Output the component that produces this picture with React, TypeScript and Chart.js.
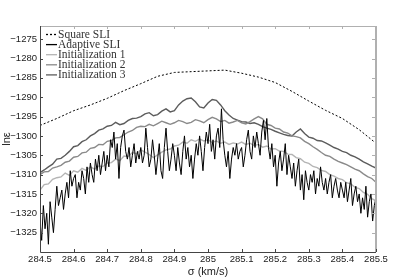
import React, { useEffect, useRef } from "react";
import { Chart, registerables } from "chart.js";
Chart.register(...registerables);

// ---- axes ----
const X_MIN = 284.5;
const X_MAX = 285.5;
const Y_MIN = -1330;
const Y_MAX = -1271.6;
const xTickValues = [284.5, 284.6, 284.7, 284.8, 284.9, 285.0, 285.1, 285.2, 285.3, 285.4, 285.5];
const yTickValues = [-1325, -1320, -1315, -1310, -1305, -1300, -1295, -1290, -1285, -1280, -1275];
const xTitle = "σ (km/s)";
const yTitle = "lnε";

// ---- series names ----
const seriesNames = ["Square SLI", "Adaptive SLI", "Initialization 1", "Initialization 2", "Initialization 3"];

// ---- Square SLI (sampled every 0.05) ----
const squareStart = 284.5;
const squareStep = 0.05;
const squareY = [
  -1297.3, -1295.5, -1293.5, -1292.0, -1290.3, -1288.3, -1286.5, -1284.6, -1283.6, -1283.4,
  -1283.2, -1283.0, -1283.8, -1284.8, -1286.2, -1288.5, -1291.0, -1293.4, -1295.5, -1298.4, -1301.9,
];

// ---- Adaptive SLI (sampled every 0.005) ----
const adaptiveStart = 284.5;
const adaptiveStep = 0.005;
const adaptiveY = [
  -1322, -1327, -1318, -1324, -1320, -1328, -1317, -1321, -1325, -1319,
  -1313, -1318, -1316, -1314, -1319, -1315, -1312, -1316, -1309, -1313,
  -1311, -1310, -1316, -1312, -1314, -1309, -1311, -1315, -1308, -1312,
  -1307, -1310, -1312, -1306, -1309, -1305, -1310, -1307, -1304, -1309,
  -1305, -1308, -1301, -1303, -1299, -1306, -1302, -1311, -1303, -1300,
  -1298.5, -1304, -1306, -1303, -1308, -1305, -1302, -1307, -1304, -1306,
  -1303, -1307, -1305, -1298, -1303, -1308, -1306, -1301, -1305, -1310,
  -1306, -1302, -1309, -1311, -1303, -1298, -1304, -1309, -1306, -1302,
  -1305, -1309, -1303, -1307, -1310, -1304, -1300, -1306, -1303, -1308,
  -1305, -1311, -1306, -1302, -1305, -1300, -1304, -1309, -1303, -1299,
  -1302, -1297, -1304, -1301, -1306, -1300, -1298, -1303, -1293, -1301,
  -1305, -1308, -1304, -1311, -1306, -1303, -1305, -1302, -1306, -1304,
  -1303, -1308, -1305, -1301, -1298.5, -1304, -1306, -1300, -1303, -1299,
  -1302, -1305, -1299, -1296, -1301, -1295.5, -1303, -1306, -1302, -1308,
  -1305, -1313, -1307, -1304, -1309, -1306, -1302, -1310, -1305, -1308,
  -1311, -1307, -1313, -1309, -1306, -1314, -1310, -1316.5, -1309, -1312,
  -1314, -1310, -1312, -1309, -1315, -1311, -1313, -1308, -1312, -1314,
  -1311, -1315, -1312, -1310, -1316, -1313, -1311, -1314, -1316, -1312,
  -1314, -1316, -1312, -1317, -1314, -1311, -1318, -1315, -1313, -1317,
  -1315, -1320, -1316, -1319, -1313, -1321, -1317, -1315, -1322, -1318,
  -1316,
];

// ---- Initializations (sampled every 0.0125) ----
const initStart = 284.5;
const initStep = 0.0125;
const init1Y = [
  -1314.0, -1312.6, -1312.4, -1311.2, -1310.8, -1310.6, -1309.6, -1310.2, -1309.0, -1309.4,
  -1308.4, -1308.9, -1308.0, -1308.6, -1307.8, -1307.9, -1307.0, -1306.9, -1306.0, -1306.4,
  -1305.2, -1305.3, -1304.3, -1304.6, -1303.6, -1304.2, -1304.8, -1305.6, -1304.9, -1304.2,
  -1303.6, -1303.4, -1302.6, -1302.4, -1301.6, -1301.9, -1301.0, -1301.4, -1300.8, -1301.3,
  -1301.0, -1301.7, -1301.3, -1301.9, -1301.6, -1302.2, -1301.8, -1302.1, -1301.6, -1302.2,
  -1301.9, -1302.5, -1302.2, -1302.9, -1302.6, -1303.4, -1303.3, -1303.9, -1304.0, -1304.7,
  -1304.8, -1305.6, -1305.9, -1306.8, -1307.1, -1307.9, -1308.2, -1308.9, -1309.2, -1310.0,
  -1310.4, -1311.0, -1311.3, -1312.1, -1312.4, -1313.3, -1313.6, -1314.6, -1315.1, -1316.2,
  -1316.8,
];
const init2Y = [
  -1310.0, -1309.3, -1309.2, -1308.3, -1308.0, -1307.6, -1306.8, -1306.5, -1305.5, -1305.3,
  -1304.4, -1304.2, -1303.2, -1303.0, -1302.2, -1302.3, -1301.4, -1301.2, -1300.5, -1300.4,
  -1299.7, -1299.0, -1298.6, -1297.8, -1297.5, -1297.6, -1297.0, -1297.4, -1296.8, -1296.2,
  -1296.6, -1297.0, -1296.6, -1296.0, -1296.3, -1296.8, -1296.5, -1295.8, -1296.1, -1296.6,
  -1295.8, -1295.2, -1295.6, -1296.3, -1296.0, -1296.7, -1296.4, -1296.0, -1296.6, -1296.9,
  -1296.3, -1295.6, -1295.0, -1295.6, -1297.0, -1297.3, -1298.0, -1298.2, -1299.0, -1299.3,
  -1300.0, -1300.2, -1300.5, -1301.4, -1302.0, -1302.8, -1303.5, -1304.3, -1305.0, -1305.3,
  -1306.0, -1306.6, -1307.0, -1307.4, -1308.0, -1308.6, -1309.0, -1309.8, -1310.5, -1311.0,
  -1312.0,
];
const init3Y = [
  -1309.5, -1308.8, -1308.0, -1307.3, -1306.0, -1305.8, -1305.0, -1304.0, -1302.8, -1302.5,
  -1301.5, -1301.0, -1300.0, -1299.4, -1298.5, -1298.2, -1297.5, -1297.3, -1296.5, -1297.1,
  -1296.8, -1296.0, -1295.5, -1295.4, -1295.0, -1294.3, -1294.0, -1294.8, -1294.5, -1293.6,
  -1293.0, -1293.8, -1293.5, -1292.0, -1291.0, -1290.4, -1290.2, -1291.2, -1292.5, -1292.8,
  -1291.5, -1290.6, -1290.8, -1292.0, -1293.5, -1294.6, -1295.5, -1295.9, -1296.3, -1296.4,
  -1296.8, -1296.6, -1297.0, -1297.6, -1298.0, -1298.3, -1298.8, -1299.2, -1299.6, -1299.9,
  -1300.0, -1299.0, -1298.2, -1299.4, -1300.3, -1300.6, -1301.2, -1301.3, -1301.8, -1302.4,
  -1303.0, -1303.4, -1304.0, -1304.3, -1305.0, -1305.4, -1306.0, -1306.7, -1307.2, -1307.8,
  -1308.3,
];

const toPoints = (start: number, step: number, ys: number[]) =>
  ys.map((y, i) => ({ x: start + i * step, y }));

const seriesColors = ["#000000", "#000000", "#b4b4b4", "#8a8a8a", "#5c5c5c"];
const seriesDash: number[][] = [[2, 2], [], [], [], []];

const tickFont = { family: "'Liberation Sans', Arial, sans-serif", size: 9.5 };

const framePlugin = {
  id: "matlabFrame",
  afterDraw(chart: any) {
    const { ctx, chartArea } = chart;
    const { left, right, top, bottom } = chartArea;
    const xs = chart.scales.x;
    const ys = chart.scales.y;
    ctx.save();
    ctx.strokeStyle = "#b0b0b0";
    ctx.lineWidth = 1;
    ctx.beginPath();
    ctx.moveTo(left, top + 0.5);
    ctx.lineTo(right, top + 0.5);
    ctx.stroke();
    ctx.lineWidth = 2;
    ctx.beginPath();
    ctx.moveTo(right, top);
    ctx.lineTo(right, bottom);
    ctx.stroke();
    ctx.lineWidth = 1;
    for (const v of xTickValues) {
      const px = Math.round(xs.getPixelForValue(v)) + 0.5;
      ctx.beginPath();
      ctx.moveTo(px, top);
      ctx.lineTo(px, top + 3);
      ctx.stroke();
    }
    for (const v of yTickValues) {
      const py = Math.round(ys.getPixelForValue(v)) + 0.5;
      ctx.beginPath();
      ctx.moveTo(right - 1, py);
      ctx.lineTo(right - 4, py);
      ctx.stroke();
    }
    ctx.strokeStyle = "#444";
    ctx.lineWidth = 1;
    ctx.beginPath();
    ctx.moveTo(left + 0.5, top);
    ctx.lineTo(left + 0.5, bottom + 0.5);
    ctx.lineTo(right, bottom + 0.5);
    ctx.stroke();
    for (const v of xTickValues) {
      const px = Math.round(xs.getPixelForValue(v)) + 0.5;
      ctx.beginPath();
      ctx.moveTo(px, bottom);
      ctx.lineTo(px, bottom - 3);
      ctx.stroke();
    }
    for (const v of yTickValues) {
      const py = Math.round(ys.getPixelForValue(v)) + 0.5;
      ctx.beginPath();
      ctx.moveTo(left, py);
      ctx.lineTo(left + 3, py);
      ctx.stroke();
    }
    // legend
    const lx0 = left + 6;
    const lx1 = left + 17;
    const tx = left + 18;
    const y0 = top + 8.5;
    const dy = 10.1;
    ctx.font = "11.5px 'Liberation Serif', 'Times New Roman', serif";
    ctx.textBaseline = "middle";
    ctx.textAlign = "left";
    seriesNames.forEach((name, i) => {
      const y = y0 + i * dy;
      ctx.strokeStyle = seriesColors[i];
      ctx.lineWidth = 1.3;
      ctx.setLineDash(seriesDash[i]);
      ctx.beginPath();
      ctx.moveTo(lx0, y);
      ctx.lineTo(lx1, y);
      ctx.stroke();
      ctx.setLineDash([]);
      ctx.fillStyle = "#333";
      ctx.fillText(name, tx, y + 0.5);
    });
    ctx.restore();
  },
};

export default function App() {
  const canvasRef = useRef<HTMLCanvasElement | null>(null);

  useEffect(() => {
    document.body.style.margin = "0";
    const canvas = canvasRef.current;
    if (!canvas) return;
    const datasets = [
      { label: seriesNames[0], data: toPoints(squareStart, squareStep, squareY), borderColor: seriesColors[0], borderWidth: 1, borderDash: seriesDash[0], order: 0 },
      { label: seriesNames[1], data: toPoints(adaptiveStart, adaptiveStep, adaptiveY), borderColor: seriesColors[1], borderWidth: 1, order: 1 },
      { label: seriesNames[2], data: toPoints(initStart, initStep, init1Y), borderColor: seriesColors[2], borderWidth: 1.4, order: 2 },
      { label: seriesNames[3], data: toPoints(initStart, initStep, init2Y), borderColor: seriesColors[3], borderWidth: 1.4, order: 3 },
      { label: seriesNames[4], data: toPoints(initStart, initStep, init3Y), borderColor: seriesColors[4], borderWidth: 1.4, order: 4 },
    ].map((d) => ({ ...d, pointRadius: 0, fill: false, tension: 0 }));

    const chart = new Chart(canvas, {
      type: "line",
      data: { datasets },
      options: {
        responsive: false,
        animation: false,
        devicePixelRatio: 1,
        layout: { padding: { top: 26, right: 39, left: 0, bottom: 0 } },
        plugins: { legend: { display: false }, tooltip: { enabled: false } },
        scales: {
          x: {
            type: "linear",
            min: X_MIN,
            max: X_MAX,
            afterBuildTicks: (s: any) => {
              s.ticks = xTickValues.map((v) => ({ value: v }));
            },
            afterFit: (s: any) => {
              s.height = 27;
            },
            ticks: {
              autoSkip: false,
              maxRotation: 0,
              padding: 2,
              color: "#222",
              font: tickFont,
              callback: (v: any) => String(Number(Number(v).toFixed(1))),
            },
            grid: { display: false, drawTicks: false },
            border: { display: false },
            title: { display: true, text: xTitle, padding: 0, color: "#222", font: { family: "'Liberation Sans', Arial, sans-serif", size: 11 } },
          },
          y: {
            type: "linear",
            min: Y_MIN,
            max: Y_MAX,
            afterBuildTicks: (s: any) => {
              s.ticks = yTickValues.map((v) => ({ value: v }));
            },
            afterFit: (s: any) => {
              s.width = 40;
            },
            ticks: {
              autoSkip: false,
              padding: 3,
              color: "#222",
              font: tickFont,
              callback: (v: any) => (Number(v) < 0 ? "\u2212" + Math.abs(Number(v)) : String(v)),
            },
            grid: { display: false, drawTicks: false },
            border: { display: false },
            title: { display: true, text: yTitle, padding: 0, color: "#222", font: { family: "'Liberation Sans', Arial, sans-serif", size: 11 } },
          },
        },
      },
      plugins: [framePlugin],
    } as any);
    return () => chart.destroy();
  }, []);

  return (
    <div style={{ position: "absolute", left: 0, top: 0, width: 415, height: 279, background: "#fff" }}>
      <canvas ref={canvasRef} width={415} height={279} style={{ display: "block" }} />
    </div>
  );
}
